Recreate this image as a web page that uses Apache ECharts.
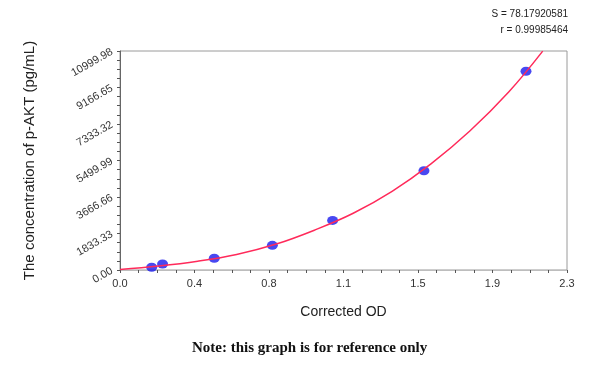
<!DOCTYPE html>
<html>
<head>
<meta charset="utf-8">
<script src="https://cdn.jsdelivr.net/npm/echarts@6/dist/echarts.min.js"></script>
<style>html,body{margin:0;padding:0;background:#fff;}#c{width:600px;height:366px;}</style>
</head>
<body>
<div id="c"></div>
<script>
// Standard points (Corrected OD, concentration pg/mL)
var pointOD = [0.163, 0.219, 0.485, 0.784, 1.094, 1.564, 2.089];
var pointConc = [136, 301, 588, 1240, 2490, 4988, 9981];
// Fitted curve
var curveOD = [0, 0.2, 0.4, 0.6, 0.8, 1.0, 1.2, 1.4, 1.6, 1.8, 2.0, 2.175];
var curveConc = [30, 200, 440, 780, 1290, 2000, 2850, 3950, 5330, 6980, 8940, 10995];
// Tick labels
var xTickLabels = ['0.0', '0.4', '0.8', '1.1', '1.5', '1.9', '2.3'];
var yTickLabels = ['0.00', '1833.33', '3666.66', '5499.99', '7333.32', '9166.65', '10999.98'];
var xMax = 2.3, yMax = 10999.98;
var statS = 'S = 78.17920581';
var statR = 'r = 0.99985464';

var xInt = xMax / 6, yInt = yMax / 6;
var chart = echarts.init(document.getElementById('c'), null, {renderer: 'canvas'});
chart.setOption({
  animation: false,
  backgroundColor: '#ffffff',
  textStyle: {fontFamily: 'Liberation Sans, Arial, sans-serif'},
  grid: {left: 120, right: 33, top: 51, bottom: 96, show: true, borderColor: '#9a9a9a', borderWidth: 1, backgroundColor: 'transparent'},
  graphic: [
    {type: 'text', right: 32, top: 9, style: {text: statS, fill: '#222', font: '10px Liberation Sans, Arial', align: 'right'}},
    {type: 'text', right: 32, top: 25, style: {text: statR, fill: '#222', font: '10px Liberation Sans, Arial', align: 'right'}},
    {type: 'text', left: 192, top: 341, style: {text: 'Note: this graph is for reference only', fill: '#111', font: 'bold 15px Liberation Serif, Times New Roman, serif'}}
  ],
  xAxis: {
    type: 'value', min: 0, max: xMax, interval: xInt,
    name: 'Corrected OD', nameLocation: 'middle', nameGap: 35,
    nameTextStyle: {fontSize: 14, color: '#222', fontFamily: 'Liberation Sans, Arial'},
    axisLine: {show: true, lineStyle: {color: '#bdbdbd', width: 1}},
    axisTick: {show: true, inside: false, length: 3, lineStyle: {color: '#555'}},
    minorTick: {show: true, splitNumber: 4, length: 3, lineStyle: {color: '#555'}},
    splitLine: {show: false},
    axisLabel: {fontSize: 11, color: '#333', margin: 8, formatter: function (v) { return xTickLabels[Math.round(v / xInt)]; }}
  },
  yAxis: {
    type: 'value', min: 0, max: yMax, interval: yInt,
    name: 'The concentration of p-AKT (pg/mL)', nameLocation: 'middle', nameGap: 83,
    nameTextStyle: {fontSize: 15, color: '#222', fontFamily: 'Liberation Sans, Arial'},
    axisLine: {show: true, lineStyle: {color: '#666', width: 1}},
    axisTick: {show: true, inside: false, length: 3, lineStyle: {color: '#555'}},
    minorTick: {show: true, splitNumber: 4, length: 3, lineStyle: {color: '#555'}},
    splitLine: {show: false},
    axisLabel: {fontSize: 11, color: '#333', rotate: 30, margin: 8, formatter: function (v) { return yTickLabels[Math.round(v / yInt)]; }}
  },
  series: [
    {
      type: 'scatter', z: 2,
      data: pointOD.map(function (x, i) { return [x, pointConc[i]]; }),
      symbol: 'circle', symbolSize: [11, 9],
      itemStyle: {color: '#1a1aee'}
    },
    {
      type: 'line', z: 3, smooth: 0.4, showSymbol: false, symbol: 'none',
      data: curveOD.map(function (x, i) { return [x, curveConc[i]]; }),
      lineStyle: {color: '#ff2a5a', width: 1.5}
    }
  ]
});
</script>
</body>
</html>
